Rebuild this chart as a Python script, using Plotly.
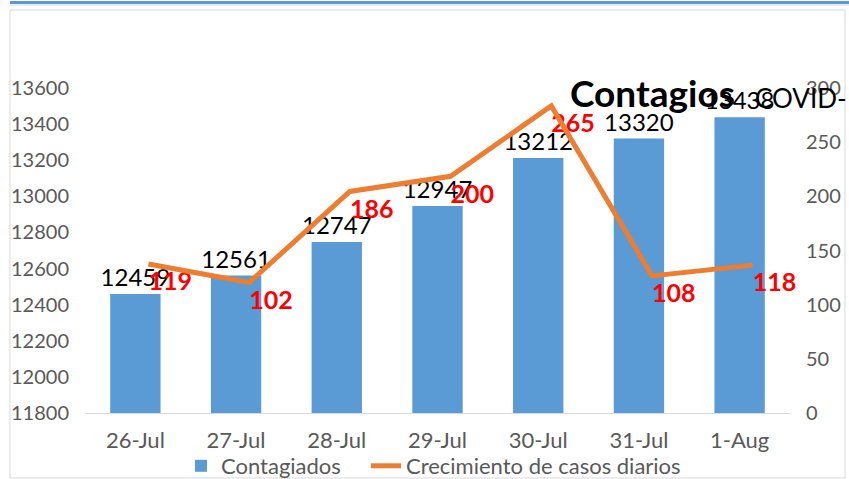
import plotly.graph_objects as go

categories = ["26-Jul", "27-Jul", "28-Jul", "29-Jul", "30-Jul", "31-Jul", "1-Aug"]
contagiados = [12459, 12561, 12747, 12947, 13212, 13320, 13438]
crecimiento = [119, 102, 186, 200, 265, 108, 118]
left_ticks = [11800, 12000, 12200, 12400, 12600, 12800, 13000, 13200, 13400, 13600]
right_ticks = [0, 50, 100, 150, 200, 250, 300]

FONT = "Lato"
GRAY = "#595959"
BLUE = "#5B9BD5"
ORANGE = "#ED7D31"

W, H = 849, 479
L, R, T, B = 85, 59, 88, 66
pw, ph = W - L - R, H - T - B

def px(p):
    return (p - L) / pw

def py(p):
    return (H - B - p) / ph

fig = go.Figure()

fig.add_trace(go.Bar(
    x=categories, y=contagiados, name="Contagiados",
    marker=dict(color=BLUE, line=dict(width=0)),
    width=0.5,
    text=[str(v) for v in contagiados], textposition="outside",
    textfont=dict(family=FONT, size=24, color="#000000"),
    constraintext="none", cliponaxis=False,
    xaxis="x", yaxis="y", legend="legend",
))

fig.add_trace(go.Scatter(
    x=categories, y=crecimiento, name="Crecimiento de casos diarios",
    mode="lines", line=dict(color=ORANGE, width=5),
    xaxis="x2", yaxis="y3", legend="legend2",
))

fig.add_trace(go.Scatter(
    x=categories, y=crecimiento, mode="text",
    text=[str(v) for v in crecimiento], textposition="middle right",
    textfont=dict(family=FONT, size=25, color="#FF0000", weight="bold"),
    showlegend=False, cliponaxis=False,
    xaxis="x2", yaxis="y2",
))

shift = 0.13
legend_common = dict(orientation="h", xanchor="left", yref="container",
                     y=1 - 466 / H, yanchor="middle",
                     font=dict(family=FONT, size=22, color=GRAY),
                     bgcolor="rgba(0,0,0,0)", itemwidth=30)
fig.update_layout(
    width=W, height=H,
    margin=dict(l=L, r=R, t=T, b=B, autoexpand=False),
    paper_bgcolor="white", plot_bgcolor="white",
    font=dict(family=FONT, color=GRAY, size=19),
    bargap=0.5,
    xaxis=dict(type="category", range=[-0.5, 6.5], showgrid=False, zeroline=False,
               showline=True, linecolor="#D9D9D9", linewidth=1,
               ticks="", tickfont=dict(family=FONT, size=22, color=GRAY),
               ticklabelstandoff=8, automargin=False),
    xaxis2=dict(type="category", overlaying="x", range=[-0.5 - shift, 6.5 - shift],
                visible=False),
    yaxis=dict(range=[11800, 13600], tickvals=left_ticks, tickformat="d",
               showgrid=False, zeroline=False, automargin=False,
               showline=False, ticks="", tickfont=dict(family=FONT, size=20, color=GRAY),
               ticklabelstandoff=15),
    yaxis2=dict(range=[0, 300], tickvals=right_ticks, tickformat="d", overlaying="y",
                side="right", automargin=False,
                showgrid=False, zeroline=False, showline=False, ticks="",
                tickfont=dict(family=FONT, size=20, color=GRAY), ticklabelstandoff=15),
    yaxis3=dict(range=[-18.5, 281.5], overlaying="y", visible=False),
    legend=dict(x=px(181), **legend_common),
    legend2=dict(x=px(366), **legend_common),
    showlegend=True,
)

# frame and top bar
fig.add_shape(type="rect", xref="paper", yref="paper",
              x0=px(10), x1=px(845), y0=py(478), y1=py(10),
              line=dict(color="#D9D9D9", width=1), fillcolor="rgba(0,0,0,0)", layer="below")
fig.add_shape(type="line", xref="paper", yref="paper",
              x0=px(10), x1=px(849), y0=py(5), y1=py(5),
              line=dict(color="#D9D9D9", width=1))
fig.add_shape(type="line", xref="paper", yref="paper",
              x0=px(10), x1=px(849), y0=py(2.5), y1=py(2.5),
              line=dict(color=BLUE, width=3))

# title
fig.add_annotation(text="<b>Contagios</b>", xref="paper", yref="paper",
                   x=px(568), y=py(93), xanchor="left", yanchor="middle",
                   showarrow=False, font=dict(family=FONT, size=37, color="#000000"))
fig.add_annotation(text="COVID-", xref="paper", yref="paper",
                   x=px(753), y=py(98), xanchor="left", yanchor="middle",
                   showarrow=False, font=dict(family=FONT, size=26, color="#000000"))

fig.write_html("out.html", config={"displayModeBar": False},
               post_script="document.body.style.margin='0';document.body.style.overflow='hidden';")
